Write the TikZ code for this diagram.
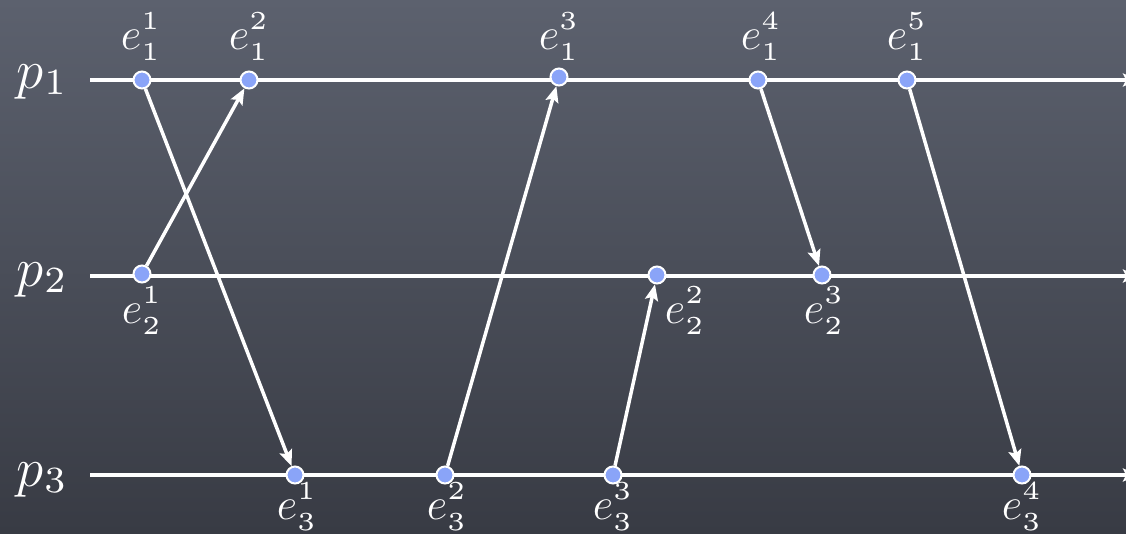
\RequirePackage{fix-cm}
\documentclass[tikz,border=0pt]{standalone}
\usetikzlibrary{arrows.meta}
\definecolor{bgtop}{RGB}{92,97,110}
\definecolor{bgbot}{RGB}{56,59,68}
\definecolor{evblue}{RGB}{138,164,248}
\pgfdeclarelayer{bg}
\pgfdeclarelayer{lines}
\pgfsetlayers{bg,lines,main}
\font\sdigfont=cmr5 at 26pt
\font\pdigfont=cmr7 at 37pt
\newcommand{\ev}[2]{$e$\rlap{\raisebox{20pt}{\sdigfont #2}}\raisebox{-11pt}{\sdigfont #1}}
\newcommand{\proc}[1]{$p$\kern1pt\raisebox{-6pt}{\pdigfont #1}}
\tikzset{
  ev/.style={circle, fill=evblue, draw=white, line width=2pt, minimum size=17pt, inner sep=0pt},
  msg/.style={draw=white, line width=3.5pt, -{Stealth[length=16pt,width=13pt,inset=3pt]}},
  tl/.style={draw=white, line width=4pt, -{Stealth[length=15pt,width=13pt,inset=3pt]}},
  elab/.style={text=white, inner sep=0pt, font=\fontsize{45}{50}\selectfont},
  plab/.style={text=white, inner sep=0pt, anchor=base, font=\fontsize{55}{60}\selectfont}
}
\begin{document}
\begin{tikzpicture}[x=1pt,y=-1pt]
\begin{pgfonlayer}{bg}
\fill[top color=bgtop, bottom color=bgbot] (0,0) rectangle (1126,533);
\end{pgfonlayer}
\useasboundingbox (0,0) rectangle (1126,533);
% process labels
\node[plab] (p1) at (41,88) {\proc{1}};
\node[plab] (p2) at (41,286) {\proc{2}};
\node[plab] (p3) at (41,486) {\proc{3}};
% timeline ends
\coordinate (s1) at (90,80);   \coordinate (t1) at (1138,80);
\coordinate (s2) at (90,276);  \coordinate (t2) at (1138,276);
\coordinate (s3) at (90,475);  \coordinate (t3) at (1138,475);
% events
\node[ev] (e11) at (142,80) {};
\node[ev] (e12) at (249,80) {};
\node[ev] (e13) at (559,77) {};
\node[ev] (e14) at (758,80) {};
\node[ev] (e15) at (907,80) {};
\node[ev] (e21) at (142,274) {};
\node[ev] (e22) at (657,275) {};
\node[ev] (e23) at (822,275) {};
\node[ev] (e31) at (295,475) {};
\node[ev] (e32) at (445,475) {};
\node[ev] (e33) at (613,475) {};
\node[ev] (e34) at (1022,475) {};
% event labels
\node[elab] (l11) at (140,37) {\ev{1}{1}};
\node[elab] (l12) at (248,37) {\ev{1}{2}};
\node[elab] (l13) at (558,37) {\ev{1}{3}};
\node[elab] (l14) at (760,37) {\ev{1}{4}};
\node[elab] (l15) at (906,37) {\ev{1}{5}};
\node[elab] (l21) at (141,311) {\ev{2}{1}};
\node[elab] (l22) at (684,311) {\ev{2}{2}};
\node[elab] (l23) at (823,311) {\ev{2}{3}};
\node[elab] (l31) at (296,507) {\ev{3}{1}};
\node[elab] (l32) at (446,507) {\ev{3}{2}};
\node[elab] (l33) at (612,507) {\ev{3}{3}};
\node[elab] (l34) at (1021,507) {\ev{3}{4}};
\begin{pgfonlayer}{lines}
\draw[tl] (s1) -- (t1);
\draw[tl] (s2) -- (t2);
\draw[tl] (s3) -- (t3);
\draw[msg] (e11) -- (e31);
\draw[msg] (e21) -- (e12);
\draw[msg] (e32) -- (e13);
\draw[msg] (e14) -- (e23);
\draw[msg] (e33) -- (e22);
\draw[msg] (e15) -- (e34);
\end{pgfonlayer}
\end{tikzpicture}
\end{document}
